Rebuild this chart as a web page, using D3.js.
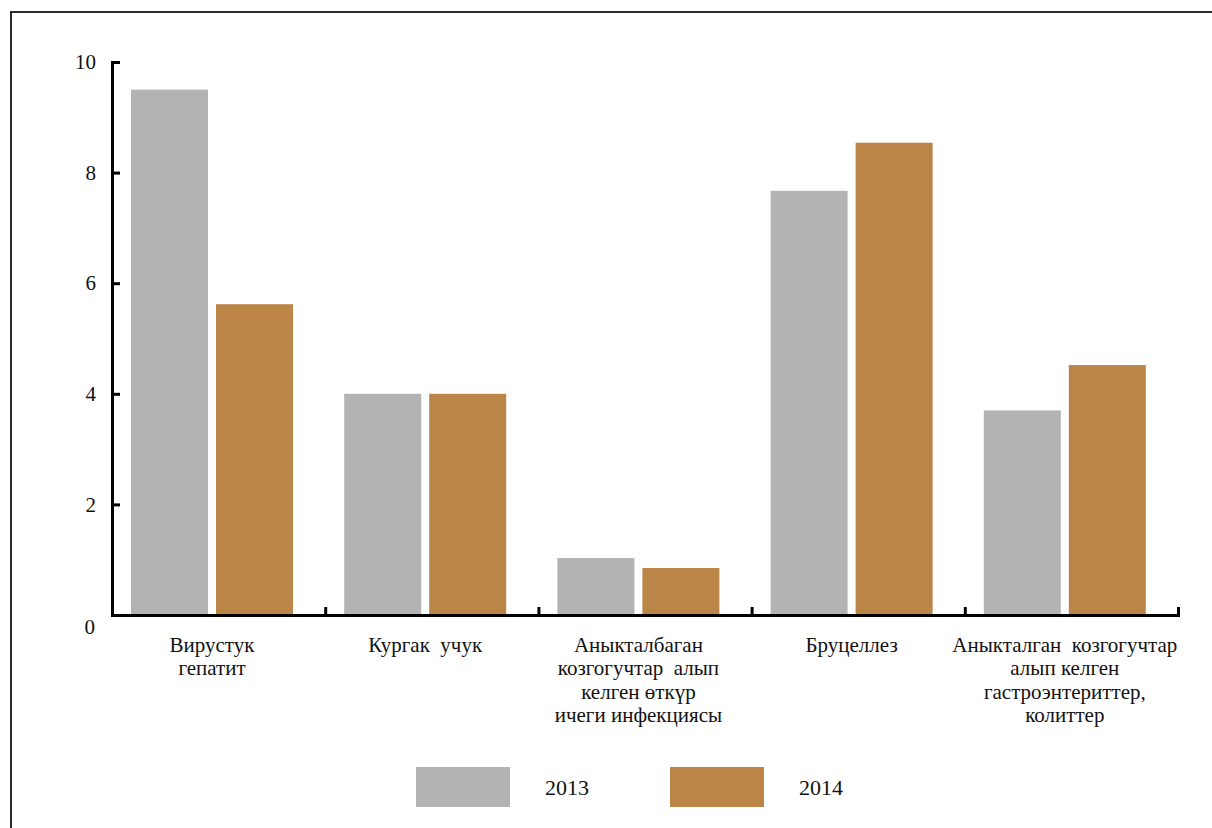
<!DOCTYPE html>
<html>
<head>
<meta charset="utf-8">
<script src="https://cdn.jsdelivr.net/npm/d3@7"></script>
<style>
  body { margin: 0; background: #fff; }
  text { font-family: "Liberation Serif", "Times New Roman", serif; fill: #111; }
</style>
</head>
<body>
<svg id="chart" width="1212" height="828"></svg>
<script>
// chart data
const categories = [
  ["Вирустук", "гепатит"],
  ["Кургак  учук"],
  ["Аныкталбаган", "козгогучтар  алып", "келген өткүр", "ичеги инфекциясы"],
  ["Бруцеллез"],
  ["Аныкталган  козгогучтар", "алып келген", "гастроэнтериттер,", "колиттер"]
];
const years = ["2013", "2014"];
const values2013 = [9.5, 4.0, 1.03, 7.67, 3.7];
const values2014 = [5.62, 4.0, 0.85, 8.54, 4.52];
const yTicks = [0, 2, 4, 6, 8, 10];
const colors = ["#b3b3b3", "#ba8547"];

const svg = d3.select("#chart");

// frame (top + left only)
svg.append("path")
  .attr("d", "M11,828V12H1212")
  .attr("fill", "none")
  .attr("stroke", "#2a2a2a")
  .attr("stroke-width", 2);

const plotLeft = 112, plotRight = 1178, plotTop = 62, plotBottom = 615;

const x = d3.scaleBand()
  .domain(d3.range(categories.length))
  .range([plotLeft, plotRight]);

const xs = d3.scaleBand()
  .domain(years)
  .range([19, 181])
  .paddingInner(0.094);

const y = d3.scaleLinear().domain([0, 10]).range([plotBottom, plotTop]);

// bars
const series = [values2013, values2014];
series.forEach((vals, si) => {
  svg.append("g").selectAll("rect")
    .data(vals)
    .enter()
    .append("rect")
    .attr("x", (d, i) => x(i) + xs(years[si]))
    .attr("y", d => y(d))
    .attr("width", xs.bandwidth())
    .attr("height", d => y(0) - y(d))
    .attr("fill", colors[si]);
});

// y axis
const yAxis = svg.append("g")
  .attr("transform", `translate(${plotLeft},0)`)
  .call(d3.axisLeft(y).tickValues(yTicks).tickSizeInner(-8).tickSizeOuter(-8).tickPadding(16));
yAxis.select(".domain").attr("stroke", "#000").attr("stroke-width", 3);
yAxis.selectAll(".tick line").attr("stroke", "#000").attr("stroke-width", 3);
yAxis.selectAll(".tick text")
  .style("font-family", '"Liberation Serif", serif')
  .attr("font-size", 21)
  .attr("fill", "#111")
  .attr("dy", d => d === 0 ? "0.9em" : "0.32em")
  .attr("x", d => d === 0 ? -17 : -16);

// x axis with ticks at category boundaries
const xb = d3.scaleLinear().domain([0, categories.length]).range([plotLeft, plotRight]);
const xAxis = svg.append("g")
  .attr("transform", `translate(0,${plotBottom})`)
  .call(d3.axisBottom(xb).ticks(categories.length).tickSizeInner(-8).tickSizeOuter(-8).tickFormat(""));
xAxis.select(".domain").attr("stroke", "#000").attr("stroke-width", 3);
xAxis.selectAll(".tick line").attr("stroke", "#000").attr("stroke-width", 3);

// category labels
const labels = svg.append("g").selectAll("text")
  .data(categories)
  .enter()
  .append("text")
  .attr("text-anchor", "middle")
  .attr("font-size", 21)
  .attr("transform", (d, i) => `translate(${x(i) + 100},652)`);
labels.selectAll("tspan")
  .data(d => d)
  .enter()
  .append("tspan")
  .attr("x", 0)
  .attr("y", (d, j) => j * 23.4)
  .style("white-space", "pre")
  .text(d => d);

// legend
const legendX = [416, 670];
years.forEach((yr, i) => {
  svg.append("rect")
    .attr("x", legendX[i])
    .attr("y", 767)
    .attr("width", 94)
    .attr("height", 40)
    .attr("fill", colors[i]);
  svg.append("text")
    .attr("x", legendX[i] + 129)
    .attr("y", 795)
    .attr("font-size", 22)
    .text(yr);
});
</script>
</body>
</html>
